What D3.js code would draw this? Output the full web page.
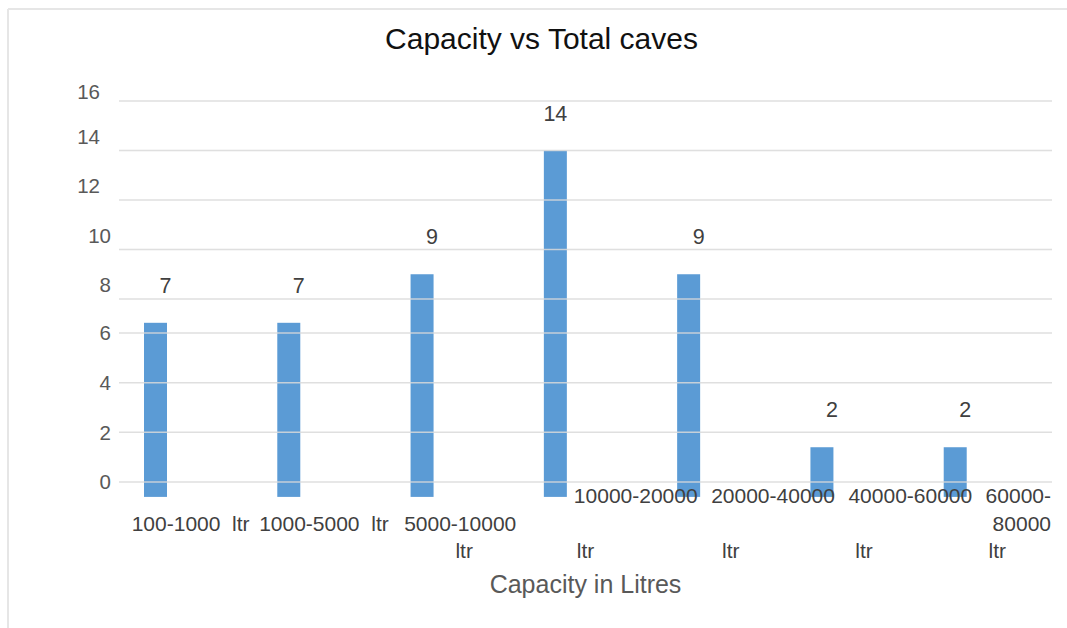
<!DOCTYPE html>
<html>
<head>
<meta charset="utf-8">
<script src="https://cdn.jsdelivr.net/npm/d3@7"></script>
<style>
  html, body { margin: 0; padding: 0; background: #fff; }
  svg { display: block; font-family: "Liberation Sans", Arial, sans-serif; }
</style>
</head>
<body>
<svg id="chart" width="1067" height="628"></svg>
<script>
// ---- data ----
const categories = ["100-1000", "1000-5000", "5000-10000", "10000-20000", "20000-40000", "40000-60000", "60000-80000"];
const unit = "ltr";
const dataLabels = [7, 7, 9, 14, 9, 2, 2];          // printed labels
const barHeights = [6.6, 6.6, 9, 14, 9, 1.4, 1.4];  // heights as drawn in the picture
const yTicks = [0, 2, 4, 6, 8, 10, 12, 14, 16];
const titleText = "Capacity vs Total caves";
const xTitleText = "Capacity in Litres";

// ---- layout ----
const W = 1067, H = 628;
const svg = d3.select("#chart");
const plotL = 119, plotR = 1052;
const barBase = -0.6;

const x = d3.scaleBand().domain(categories).range([plotL, plotR]).padding(0);
// the picture's value axis is unevenly spaced; piecewise linear scale reproduces it
const y = d3.scaleLinear().domain([0, 6, 8, 16]).range([482, 333, 299, 101]);

// border (top + left)
svg.append("line").attr("x1", 8).attr("x2", W).attr("y1", 9).attr("y2", 9)
  .attr("stroke", "#e6e6e6").attr("stroke-width", 2);
svg.append("line").attr("x1", 8).attr("x2", 8).attr("y1", 9).attr("y2", H)
  .attr("stroke", "#e6e6e6").attr("stroke-width", 2);

// title
svg.append("text").attr("x", 541.5).attr("y", 49).attr("text-anchor", "middle")
  .attr("font-size", 30).attr("fill", "#111").text(titleText);

// bars
const barOffset = 25, barW = 23;
svg.append("g").selectAll("rect").data(categories).join("rect")
  .attr("x", (d) => x(d) + barOffset)
  .attr("width", barW)
  .attr("y", (d, i) => y(barHeights[i]))
  .attr("height", (d, i) => y(barBase) - y(barHeights[i]))
  .attr("fill", "#5b9bd5");

// gridlines on top of bars
svg.append("g").selectAll("line").data(yTicks).join("line")
  .attr("x1", plotL).attr("x2", plotR)
  .attr("y1", (d) => y(d)).attr("y2", (d) => y(d))
  .attr("stroke", "#d9d9d9").attr("stroke-opacity", 0.85).attr("stroke-width", 1.5);

// y tick labels
const tickDy = (v) => v >= 16 ? -9 : v >= 8 ? -14 : 0;
const tickRight = (v) => v >= 12 ? 100 : 111;
svg.append("g").selectAll("text").data(yTicks).join("text")
  .attr("x", (d) => tickRight(d))
  .attr("y", (d) => y(d) + tickDy(d))
  .attr("dy", "0.35em")
  .attr("text-anchor", "end")
  .attr("font-size", 20.5).attr("fill", "#595959")
  .text((d) => d);

// data labels (single-digit labels sit a little right of the bar in the picture)
svg.append("g").selectAll("text").data(categories).join("text")
  .attr("x", (d, i) => x(d) + barOffset + barW / 2 + (String(dataLabels[i]).length === 1 ? 10 : 0))
  .attr("y", (d, i) => y(barHeights[i]) - 30)
  .attr("text-anchor", "middle")
  .attr("font-size", 21.5).attr("fill", "#404040")
  .text((d, i) => dataLabels[i]);

// category labels (wrapped as in the picture)
const bw = x.bandwidth();
const catG = svg.append("g").attr("font-size", 21).attr("fill", "#404040");
categories.forEach((c, i) => {
  const cx = x(c) + bw / 2;
  if (i < 2) {
    catG.append("text").attr("x", cx + 5).attr("y", 531).attr("text-anchor", "middle")
      .text(c + "\u00a0\u00a0" + unit);
  } else if (i === 2) {
    catG.append("text").attr("x", cx + 8).attr("y", 531).attr("text-anchor", "middle").text(c);
    catG.append("text").attr("x", cx + 12).attr("y", 558).attr("text-anchor", "middle").text(unit);
  } else if (i < 6) {
    catG.append("text").attr("x", x(c) + 55 + 4 * (i - 3)).attr("y", 503).attr("text-anchor", "start").text(c);
    catG.append("text").attr("x", cx + (i === 3 ? 0 : 12)).attr("y", 558).attr("text-anchor", "middle").text(unit);
  } else {
    const parts = c.split("-");
    catG.append("text").attr("x", plotR - 1).attr("y", 503).attr("text-anchor", "end").text(parts[0] + "-");
    catG.append("text").attr("x", plotR - 1).attr("y", 531).attr("text-anchor", "end").text(parts[1]);
    catG.append("text").attr("x", cx + 12).attr("y", 558).attr("text-anchor", "middle").text(unit);
  }
});

// x axis title
svg.append("text").attr("x", 585.5).attr("y", 593).attr("text-anchor", "middle")
  .attr("font-size", 25).attr("fill", "#595959").text(xTitleText);
</script>
</body>
</html>
